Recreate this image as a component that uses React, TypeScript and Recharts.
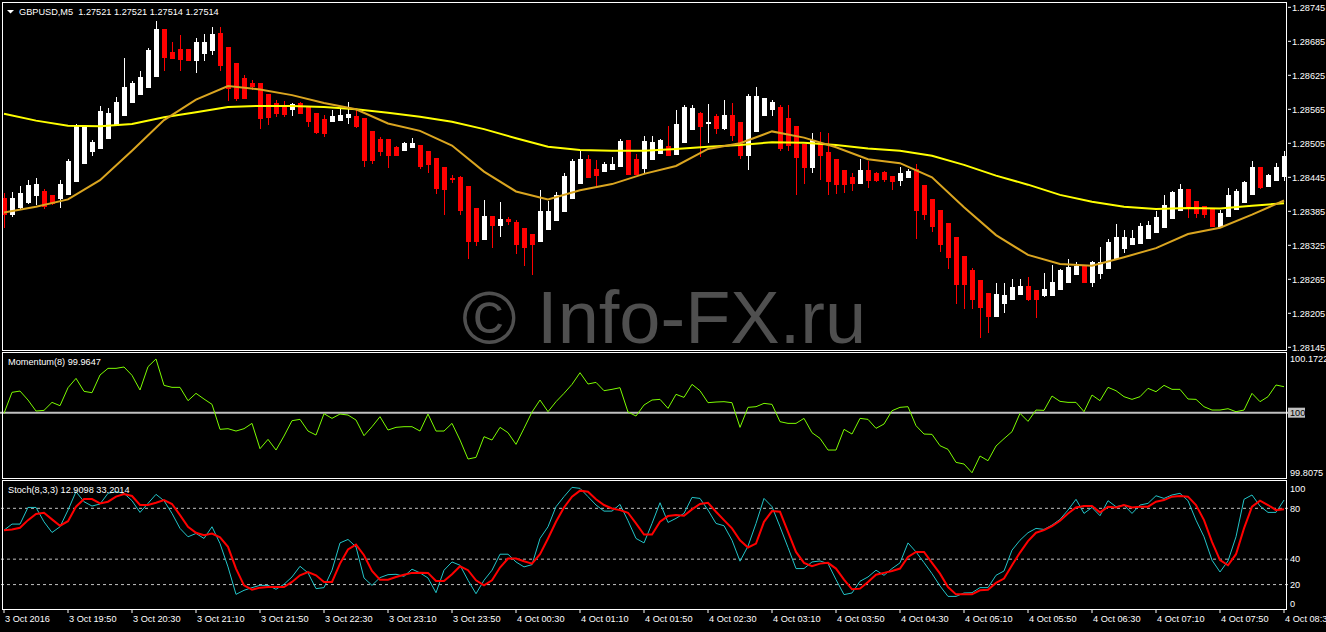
import React from "react";
import { ComposedChart, Bar, Line, XAxis, YAxis, ReferenceLine } from "recharts";

const W = 1326;
const FONT = "'Liberation Sans', Arial, sans-serif";

// time labels under the stochastic panel, one every 8 bars (M5)
const X_TICK_LABELS = [
  "3 Oct 2016", "3 Oct 19:50", "3 Oct 20:30", "3 Oct 21:10", "3 Oct 21:50", "3 Oct 22:30",
  "3 Oct 23:10", "3 Oct 23:50", "4 Oct 00:30", "4 Oct 01:10", "4 Oct 01:50", "4 Oct 02:30",
  "4 Oct 03:10", "4 Oct 03:50", "4 Oct 04:30", "4 Oct 05:10", "4 Oct 05:50", "4 Oct 06:30",
  "4 Oct 07:10", "4 Oct 07:50", "4 Oct 08:30",
];

const OPEN = [
  1.28408, 1.28379, 1.2839, 1.284, 1.28412, 1.28421, 1.28414, 1.28407, 1.28414, 1.28436,
  1.28469, 1.2849, 1.28495, 1.28513, 1.28536, 1.28553, 1.28576, 1.2859, 1.28603, 1.28622,
  1.28707, 1.28666, 1.28672, 1.28672, 1.2865, 1.28663, 1.28668, 1.287, 1.28675, 1.28647,
  1.2862, 1.28612, 1.28612, 1.28592, 1.28576, 1.28571, 1.28564, 1.28576, 1.28569, 1.28559,
  1.28548, 1.28542, 1.28545, 1.2855, 1.28553, 1.2855, 1.28527, 1.28513, 1.28513, 1.28499,
  1.28492, 1.28496, 1.28502, 1.28492, 1.28479, 1.28463, 1.28443, 1.28446, 1.2843, 1.28391,
  1.28334, 1.28377, 1.28359, 1.28372, 1.28367, 1.28356, 1.28345, 1.28331, 1.28352, 1.28368,
  1.28383, 1.28407, 1.28434, 1.28478, 1.2846, 1.28455, 1.28458, 1.28464, 1.28511, 1.28478,
  1.2846, 1.28476, 1.28486, 1.285, 1.28485, 1.28506, 1.28529, 1.28559, 1.28539, 1.28553,
  1.2853, 1.28555, 1.28543, 1.28483, 1.28525, 1.28553, 1.28564, 1.28569, 1.2855, 1.28536,
  1.28504, 1.28462, 1.28504, 1.2849, 1.28478, 1.28458, 1.28446, 1.28434, 1.28458, 1.28453,
  1.28455, 1.28448, 1.28439, 1.28443, 1.2846, 1.28432, 1.28407, 1.28388, 1.28365, 1.2834,
  1.28306, 1.28282, 1.28264, 1.28241, 1.28198, 1.28222, 1.28229, 1.28238, 1.28253, 1.28246,
  1.28235, 1.28235, 1.28247, 1.28258, 1.28272, 1.28288, 1.28258, 1.28275, 1.28284, 1.283,
  1.28318, 1.28326, 1.28328, 1.28337, 1.28346, 1.28355, 1.28372, 1.28386, 1.28425, 1.28403,
  1.28395, 1.28389, 1.28358, 1.28375, 1.28388, 1.284, 1.28414, 1.28463, 1.28428, 1.28438,
  1.28446,
];
const HIGH = [
  1.28418, 1.28419, 1.28429, 1.2844, 1.28443, 1.28425, 1.28414, 1.2844, 1.28478, 1.28539,
  1.28535, 1.28511, 1.2857, 1.28567, 1.28586, 1.28656, 1.28615, 1.28632, 1.28674, 1.28721,
  1.28707, 1.28684, 1.28696, 1.28672, 1.28691, 1.28698, 1.2871, 1.2871, 1.28675, 1.28647,
  1.28626, 1.28617, 1.28612, 1.28592, 1.28582, 1.2858, 1.28577, 1.28578, 1.28569, 1.28559,
  1.28555, 1.28564, 1.28566, 1.28578, 1.28564, 1.2855, 1.28527, 1.28517, 1.28513, 1.285,
  1.28508, 1.28515, 1.28502, 1.28492, 1.28479, 1.28463, 1.28449, 1.28448, 1.2843, 1.28391,
  1.28405, 1.28377, 1.28402, 1.28375, 1.28369, 1.28356, 1.28345, 1.28423, 1.28403, 1.28419,
  1.28453, 1.28478, 1.28493, 1.28485, 1.28476, 1.28472, 1.28481, 1.28513, 1.28511, 1.28486,
  1.28518, 1.28518, 1.28513, 1.28536, 1.28564, 1.28573, 1.28573, 1.2856, 1.28575, 1.28557,
  1.28582, 1.28576, 1.28543, 1.28592, 1.28605, 1.28585, 1.28582, 1.28573, 1.28573, 1.28536,
  1.28504, 1.28523, 1.28525, 1.28523, 1.28478, 1.28458, 1.28453, 1.28478, 1.28473, 1.28455,
  1.28457, 1.28448, 1.28464, 1.2846, 1.28469, 1.28432, 1.28407, 1.28388, 1.28365, 1.2834,
  1.28306, 1.28285, 1.28264, 1.28241, 1.28259, 1.28259, 1.28266, 1.28266, 1.28269, 1.28246,
  1.28276, 1.28291, 1.28283, 1.28301, 1.28296, 1.28288, 1.28298, 1.28322, 1.28336, 1.28363,
  1.28352, 1.28352, 1.28365, 1.28368, 1.28386, 1.28414, 1.28421, 1.28433, 1.28425, 1.28403,
  1.28395, 1.28389, 1.28388, 1.28427, 1.28425, 1.28439, 1.28474, 1.28463, 1.2845, 1.2847,
  1.28492,
];
const LOW = [
  1.28356, 1.28375, 1.28388, 1.28398, 1.28396, 1.28389, 1.28396, 1.2839, 1.28414, 1.28436,
  1.28469, 1.28483, 1.28495, 1.28513, 1.28536, 1.28553, 1.28576, 1.2859, 1.28603, 1.28622,
  1.28633, 1.28654, 1.28632, 1.2865, 1.28629, 1.2865, 1.28661, 1.28632, 1.28579, 1.2858,
  1.28583, 1.28599, 1.2853, 1.28538, 1.28552, 1.28552, 1.28553, 1.28557, 1.28533, 1.28522,
  1.28517, 1.28542, 1.28545, 1.28539, 1.28532, 1.28464, 1.28469, 1.28482, 1.28462, 1.28482,
  1.28492, 1.28496, 1.28459, 1.28453, 1.28416, 1.28378, 1.28435, 1.28378, 1.283, 1.28323,
  1.28334, 1.28321, 1.28339, 1.2836, 1.28309, 1.28289, 1.28273, 1.28331, 1.28352, 1.28368,
  1.28383, 1.28407, 1.28434, 1.28443, 1.28429, 1.28455, 1.28458, 1.28464, 1.28449, 1.28449,
  1.28452, 1.28476, 1.28486, 1.28483, 1.28485, 1.28506, 1.28529, 1.2848, 1.28506, 1.28522,
  1.28529, 1.28509, 1.28478, 1.28458, 1.28525, 1.28553, 1.28553, 1.28492, 1.28492, 1.28413,
  1.28434, 1.28452, 1.28441, 1.28413, 1.28416, 1.28418, 1.2842, 1.28434, 1.28427, 1.28436,
  1.28436, 1.28422, 1.28429, 1.28443, 1.28337, 1.2837, 1.28349, 1.28314, 1.28284, 1.28222,
  1.28212, 1.28212, 1.28161, 1.2817, 1.28198, 1.28206, 1.28229, 1.28238, 1.28226, 1.28196,
  1.28233, 1.28235, 1.28247, 1.28258, 1.28272, 1.28258, 1.28251, 1.28266, 1.28284, 1.283,
  1.28311, 1.28326, 1.28328, 1.28337, 1.28346, 1.28355, 1.28372, 1.28386, 1.28374, 1.28374,
  1.28374, 1.28358, 1.28355, 1.28375, 1.28388, 1.284, 1.28414, 1.28425, 1.28428, 1.28438,
  1.28438,
];
const CLOSE = [
  1.28379, 1.28408, 1.28418, 1.28432, 1.28433, 1.28393, 1.28398, 1.28434, 1.28474, 1.28535,
  1.28533, 1.28508, 1.28562, 1.28559, 1.28578, 1.28605, 1.28612, 1.28622, 1.28669, 1.28707,
  1.28656, 1.28654, 1.28652, 1.2865, 1.28684, 1.28684, 1.28698, 1.28642, 1.28601, 1.28583,
  1.28583, 1.28604, 1.28548, 1.2855, 1.28557, 1.28555, 1.28575, 1.28557, 1.28543, 1.28523,
  1.28522, 1.28553, 1.28555, 1.28557, 1.28534, 1.28473, 1.28473, 1.2849, 1.28482, 1.28482,
  1.28506, 1.28505, 1.28464, 1.28466, 1.28425, 1.28422, 1.2844, 1.28386, 1.2833, 1.28331,
  1.28377, 1.28359, 1.28372, 1.28366, 1.28326, 1.28321, 1.28325, 1.28386, 1.28386, 1.28414,
  1.28448, 1.28474, 1.28478, 1.28443, 1.28448, 1.28469, 1.28469, 1.28509, 1.28449, 1.28449,
  1.28509, 1.28508, 1.28511, 1.28483, 1.28539, 1.28569, 1.28567, 1.28534, 1.28543, 1.2853,
  1.28555, 1.28518, 1.28483, 1.28589, 1.28589, 1.28585, 1.28578, 1.28495, 1.285, 1.28479,
  1.28462, 1.28511, 1.28482, 1.28436, 1.28431, 1.28432, 1.28434, 1.28458, 1.28438, 1.28438,
  1.28441, 1.28436, 1.28452, 1.28457, 1.28385, 1.28378, 1.28358, 1.28326, 1.28302, 1.28255,
  1.28255, 1.28229, 1.28215, 1.28198, 1.28239, 1.28238, 1.28252, 1.28254, 1.28229, 1.28229,
  1.28248, 1.28261, 1.28282, 1.28286, 1.28289, 1.28258, 1.28296, 1.28296, 1.28331, 1.2834,
  1.2834, 1.28338, 1.28359, 1.2836, 1.28375, 1.28397, 1.28419, 1.28425, 1.28393, 1.28381,
  1.28379, 1.28358, 1.28382, 1.28414, 1.28421, 1.28437, 1.28463, 1.28427, 1.28449, 1.28463,
  1.28483,
];

// moving averages, read every 4th bar
const MA_STEP = 4;
const MA_SLOW = [
  1.28557, 1.28545, 1.28536, 1.28535, 1.28539, 1.28551, 1.2856, 1.28569, 1.28571, 1.28571,
  1.28569, 1.28565, 1.28559, 1.28552, 1.28543, 1.2853, 1.28514, 1.28499, 1.28493, 1.28492,
  1.28492, 1.28495, 1.28499, 1.28502, 1.28507, 1.28506, 1.28502, 1.28496, 1.28492, 1.28483,
  1.28467, 1.28448, 1.28432, 1.28414, 1.28402, 1.28393, 1.28389, 1.28391, 1.2839, 1.28395,
  1.28399,
];
const MA_FAST = [
  1.28383, 1.28393, 1.28406, 1.2844, 1.28492, 1.28546, 1.28582, 1.28606, 1.286, 1.2859,
  1.28576, 1.28565, 1.2854, 1.28527, 1.28501, 1.28455, 1.2842, 1.28406, 1.28422, 1.28433,
  1.28451, 1.28465, 1.28495, 1.28505, 1.28526, 1.28515, 1.28498, 1.28477, 1.2847, 1.28445,
  1.28392, 1.28343, 1.28308, 1.28292, 1.28289, 1.28304, 1.2832, 1.28345, 1.28356, 1.28379,
  1.28404,
];

const MOMENTUM = [
  99.9979, 100.0652, 100.0694, 100.0406, 100.0053, 100.0075, 100.0331, 100.0224, 100.0801, 100.11,
  100.0684, 100.0641, 100.1207, 100.1421, 100.1421, 100.1464, 100.1197, 100.0727, 100.1474, 100.1722,
  100.0876, 100.0812, 100.0812, 100.0385, 100.062, 100.0438, 100.0267, 99.9466, 99.9487, 99.9412,
  99.9487, 99.9658, 99.8846, 99.9145, 99.8803, 99.9252, 99.9744, 99.9786, 99.9412, 99.9284,
  99.9968, 99.9818, 99.9957, 99.9925, 99.9765, 99.9263, 99.9551, 99.9872, 99.9444, 99.953,
  99.9551, 99.9551, 99.9412, 99.9957, 99.9412, 99.9412, 99.9658, 99.9124, 99.8515, 99.8568,
  99.9231, 99.9124, 99.953, 99.9359, 99.8985, 99.9498, 100.0021, 100.0406, 100.0032, 100.0353,
  100.062, 100.0908, 100.1282, 100.0919, 100.0972, 100.0705, 100.0748, 100.0801, 100.0021, 99.9893,
  100.0246, 100.0406, 100.0427, 100.0139, 100.0588, 100.0491, 100.0908, 100.0705, 100.0321, 100.0342,
  100.0353, 100.0321, 99.953, 100.0171, 100.0192, 100.0299, 100.0267, 99.9712, 99.9658, 99.9658,
  99.9818, 99.9359, 99.9177, 99.8803, 99.8803, 99.9466, 99.9316, 99.9818, 99.9786, 99.9498,
  99.9637, 100.0064, 100.0171, 100.0192, 99.9583, 99.9316, 99.9306, 99.8942, 99.8825, 99.8408,
  99.8355, 99.8075, 99.8611, 99.8461, 99.8932, 99.9167, 99.9391, 99.9979, 99.9722, 100.0085,
  100.0075, 100.0534, 100.0363, 100.0331, 100.0331, 100.0032, 100.0566, 100.0385, 100.0812, 100.0705,
  100.0513, 100.0427, 100.0513, 100.078, 100.0673, 100.0876, 100.0748, 100.0748, 100.0438, 100.0427,
  100.0192, 100.0085, 100.0085, 100.0128, 100.0032, 100.0085, 100.062, 100.0353, 100.0513, 100.0887,
  100.0833,
];

const STOCH_MAIN = [
  62.8, 67.6, 67.6, 80.7, 80.7, 69.4, 61.0, 65.5, 78.6, 93.1,
  85.2, 81.8, 83.4, 91.8, 93.1, 91.8, 86.0, 76.8, 83.9, 91.0,
  86.0, 76.0, 64.2, 57.6, 60.2, 56.3, 65.5, 52.3, 33.9, 12.3,
  15.5, 17.6, 19.4, 19.4, 16.3, 20.2, 26.0, 34.4, 29.2, 16.8,
  17.6, 31.3, 52.8, 55.5, 49.7, 25.2, 19.4, 25.5, 27.8, 28.1,
  26.5, 32.1, 29.2, 25.2, 13.6, 31.3, 37.8, 35.2, 23.4, 12.8,
  23.4, 31.3, 43.9, 43.9, 37.8, 33.9, 35.7, 56.3, 65.5, 81.3,
  89.2, 96.5, 95.7, 89.2, 82.6, 77.8, 77.8, 83.1, 70.2, 56.3,
  52.8, 68.1, 84.4, 68.9, 72.1, 76.0, 88.6, 87.8, 78.6, 68.1,
  66.3, 54.9, 38.4, 50.2, 68.1, 87.8, 81.3, 65.5, 49.2, 32.6,
  32.6, 37.8, 38.6, 36.5, 23.9, 12.1, 13.4, 22.6, 26.0, 31.3,
  27.3, 32.6, 37.1, 52.8, 45.7, 37.3, 28.6, 18.9, 10.7, 10.7,
  13.4, 13.6, 17.6, 17.6, 27.3, 30.7, 47.1, 54.9, 60.8, 64.2,
  63.4, 66.8, 71.3, 78.6, 87.1, 76.0, 80.7, 74.2, 86.0, 81.3,
  82.6, 76.0, 82.6, 83.9, 89.9, 87.8, 90.5, 91.8, 86.0, 70.7,
  57.6, 39.2, 29.9, 38.6, 57.6, 87.1, 90.5, 81.8, 76.8, 76.8,
  86.5,
];
const STOCH_SIGNAL = [
  62.8, 63.4, 64.7, 70.7, 75.5, 76.5, 71.3, 66.3, 69.9, 81.3,
  87.3, 87.3, 83.9, 85.2, 89.2, 91.3, 89.7, 82.6, 82.6, 84.4,
  86.5, 83.4, 74.7, 65.5, 60.8, 58.9, 60.2, 57.1, 49.7, 32.6,
  19.4, 16.0, 17.6, 18.1, 18.1, 18.1, 22.1, 27.3, 29.9, 27.3,
  22.1, 22.1, 36.5, 47.6, 51.5, 43.1, 30.7, 23.9, 23.9, 26.0,
  27.8, 29.2, 29.4, 29.2, 22.8, 22.8, 28.1, 34.4, 31.3, 23.4,
  19.4, 23.4, 33.4, 40.5, 40.5, 38.4, 36.5, 43.9, 56.3, 69.4,
  80.7, 89.2, 93.9, 93.1, 87.1, 82.6, 79.9, 78.6, 76.5, 68.1,
  59.4, 59.4, 69.4, 73.9, 74.7, 74.2, 79.2, 83.4, 84.4, 77.3,
  70.7, 64.2, 54.9, 49.2, 52.3, 69.4, 77.8, 77.3, 61.5, 45.7,
  37.1, 34.4, 36.5, 37.1, 32.6, 23.9, 16.3, 16.8, 22.1, 27.8,
  29.2, 30.7, 32.6, 41.8, 45.7, 45.7, 37.1, 28.6, 18.1, 12.3,
  12.3, 12.3, 15.5, 16.0, 21.3, 24.7, 35.2, 45.2, 54.2, 60.8,
  62.8, 66.0, 70.2, 76.0, 80.7, 81.8, 81.8, 76.8, 81.3, 80.7,
  82.6, 80.7, 81.3, 81.3, 85.2, 86.5, 89.2, 89.7, 89.2, 82.6,
  70.7, 53.6, 39.2, 35.2, 43.9, 64.2, 81.3, 86.0, 82.6, 78.6,
  79.2,
];

const PRICE_TICKS = [
  1.28745, 1.28685, 1.28625, 1.28565, 1.28505, 1.28445, 1.28385, 1.28325, 1.28265, 1.28205, 1.28145,
];
const MOM_TICKS = [99.8075, 100, 100.1722];
const STOCH_TICKS = [0, 20, 40, 80, 100];
const STOCH_LEVELS = [20, 40, 80];

const data = OPEN.map((o, i) => ({
  i,
  o,
  h: HIGH[i],
  l: LOW[i],
  c: CLOSE[i],
  range: [LOW[i], HIGH[i]],
  maSlow: i % MA_STEP === 0 ? MA_SLOW[i / MA_STEP] : null,
  maFast: i % MA_STEP === 0 ? MA_FAST[i / MA_STEP] : null,
  mom: MOMENTUM[i],
  k: STOCH_MAIN[i],
  d: STOCH_SIGNAL[i],
}));

const Candle = (props: any) => {
  const { x, y, width, height, payload } = props;
  if (x == null || !payload) return null;
  const { o, h, l, c } = payload;
  const cx = Math.round(x + width / 2);
  const k = h > l ? height / (h - l) : 0;
  const top = y + (h - Math.max(o, c)) * k;
  const bot = y + (h - Math.min(o, c)) * k;
  const color = c >= o ? "#ffffff" : "#ff0000";
  return (
    <g shapeRendering="crispEdges">
      <rect x={cx} y={y} width={1} height={Math.max(height, 1)} fill={color} />
      <rect x={cx - 2} y={top} width={5} height={Math.max(bot - top, 1)} fill={color} />
    </g>
  );
};

const PriceTick = (p: any) => (
  <text x={p.x} y={p.y} dy="0.35em" fill="#fff" fontSize={9.2} fontFamily={FONT}>
    {Number(p.payload.value).toFixed(5)}
  </text>
);

const MomTick = (p: any) => {
  const v = p.payload.value;
  if (v === 100) {
    return (
      <g>
        <rect x={p.x - 2} y={p.y - 5} width={17} height={10} fill="#c0c0c0" />
        <text x={p.x} y={p.y} dy="0.35em" fill="#000" fontSize={9.2} fontFamily={FONT}>100</text>
      </g>
    );
  }
  return (
    <text x={p.x} y={p.y} dy="0.35em" fill="#fff" fontSize={9.2} fontFamily={FONT}>
      {v.toFixed(4)}
    </text>
  );
};

const StochTick = (p: any) => {
  const y = Math.min(Math.max(p.y, 7.5), 122.5);
  return (
    <text x={p.x} y={y} dy="0.35em" fill="#fff" fontSize={9.2} fontFamily={FONT}>
      {p.payload.value}
    </text>
  );
};

const TimeTick = (p: any) => (
  <text x={p.x + 1} y={p.y + 9} fill="#fff" fontSize={9.2} fontFamily={FONT}>
    {X_TICK_LABELS[p.payload.value / 8]}
  </text>
);

const frame = (top: number, height: number): React.CSSProperties => ({
  position: "absolute",
  left: 2,
  top,
  width: 1285,
  height,
  border: "1px solid #ffffff",
  boxSizing: "border-box",
  pointerEvents: "none",
});

const noMargin = { top: 0, right: 0, bottom: 0, left: 0 };

export default function App() {
  return (
    <div style={{ position: "absolute", left: 0, top: 0, width: W, height: 632, background: "#000", overflow: "hidden" }}>
      {/* price panel */}
      <div style={{ position: "absolute", left: 0, top: 3 }}>
        <ComposedChart width={W} height={353} data={data} margin={{ top: 0, right: 0, bottom: 7, left: 0 }}>
          <XAxis dataKey="i" type="category" scale="band" hide />
          <YAxis
            orientation="right"
            width={38}
            domain={[1.28142, 1.287526]}
            ticks={PRICE_TICKS}
            interval={0}
            allowDataOverflow
            axisLine={false}
            tickLine={{ stroke: "#fff" }}
            tickSize={3}
            tickMargin={1}
            tick={PriceTick}
          />
          <Bar dataKey="range" barSize={6} shape={Candle} isAnimationActive={false} />
          <Line dataKey="maSlow" stroke="#ffff00" strokeWidth={2} dot={false} connectNulls isAnimationActive={false} />
          <Line dataKey="maFast" stroke="#daa520" strokeWidth={2} dot={false} connectNulls isAnimationActive={false} />
        </ComposedChart>
      </div>

      {/* momentum panel */}
      <div style={{ position: "absolute", left: 0, top: 353 }}>
        <ComposedChart width={W} height={125} data={data} margin={noMargin}>
          <XAxis dataKey="i" type="category" scale="band" hide />
          <YAxis
            orientation="right"
            width={38}
            domain={[99.7907, 100.1913]}
            ticks={MOM_TICKS}
            interval={0}
            allowDataOverflow
            axisLine={false}
            tickLine={false}
            tickSize={2}
            tickMargin={0}
            tick={MomTick}
          />
          <ReferenceLine y={100} stroke="#c0c0c0" strokeWidth={2} />
          <Line dataKey="mom" stroke="#7cfc00" strokeWidth={1} dot={false} isAnimationActive={false} />
        </ComposedChart>
      </div>

      {/* stochastic panel */}
      <div style={{ position: "absolute", left: 0, top: 481 }}>
        <ComposedChart width={W} height={151} data={data} margin={noMargin}>
          <XAxis
            dataKey="i"
            type="category"
            scale="band"
            interval={7}
            height={22}
            axisLine={false}
            tickLine={{ stroke: "#fff" }}
            tickSize={3}
            tickMargin={0}
            tick={TimeTick}
          />
          <YAxis
            orientation="right"
            width={38}
            domain={[0, 101.5]}
            ticks={STOCH_TICKS}
            interval={0}
            allowDataOverflow
            axisLine={false}
            tickLine={false}
            tickSize={2}
            tickMargin={0}
            tick={StochTick}
          />
          {STOCH_LEVELS.map((lv) => (
            <ReferenceLine key={lv} y={lv} stroke="#c0c0c0" strokeDasharray="3 3" />
          ))}
          <Line dataKey="k" stroke="#22c4c8" strokeWidth={1} dot={false} isAnimationActive={false} />
          <Line dataKey="d" stroke="#ff0000" strokeWidth={2} dot={false} isAnimationActive={false} />
        </ComposedChart>
      </div>

      <div style={frame(2, 349)} />
      <div style={frame(352, 127)} />
      <div style={frame(480, 130)} />

      <svg width={W} height={632} style={{ position: "absolute", left: 0, top: 0, pointerEvents: "none" }}>
        <polygon points="7,10 14,10 10.5,13.5" fill="#fff" />
        <text x={19} y={15} fill="#fff" fontSize={9.2} fontFamily={FONT} style={{ whiteSpace: "pre" }}>
          {"GBPUSD,M5  1.27521 1.27521 1.27514 1.27514"}
        </text>
        <text x={8} y={365} fill="#fff" fontSize={9.2} fontFamily={FONT}>
          Momentum(8) 99.9647
        </text>
        <text x={8} y={493} fill="#fff" fontSize={9.2} fontFamily={FONT}>
          Stoch(8,3,3) 12.9098 33.2014
        </text>
        <text x={462} y={343} fill="#4f4f4f" fontSize={74} fontFamily={FONT}>
          © Info-FX.ru
        </text>
      </svg>
    </div>
  );
}
